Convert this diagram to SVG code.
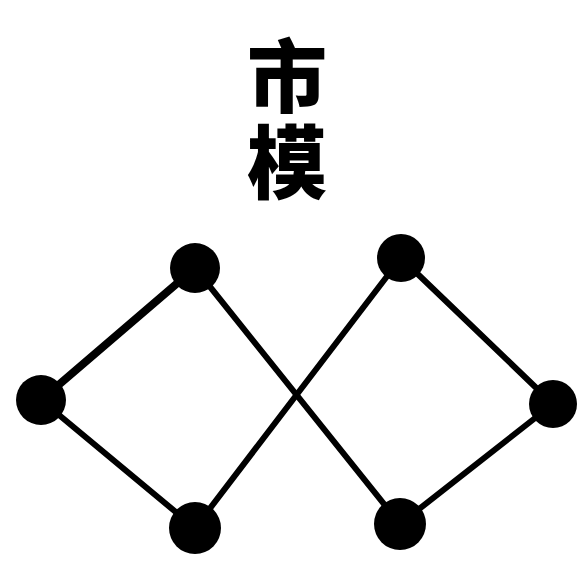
<svg xmlns="http://www.w3.org/2000/svg" width="580" height="577" viewBox="0 0 580 577">
<style>
.edge{stroke:#000;stroke-width:6;stroke-linecap:round;fill:none}
.node{fill:#000}
.t{font-family:"Noto Sans CJK SC","Noto Sans CJK JP",sans-serif;font-weight:900;font-size:80px;fill:#000;writing-mode:vertical-rl;letter-spacing:6px}
</style>
<rect width="580" height="577" fill="#fff"/>
<g id="title">
<text class="t" x="287" y="36">市模</text>
</g>
<g id="connectors">
<line class="edge" x1="41" y1="400" x2="195" y2="268" style="stroke-width:8"/>
<line class="edge" x1="41" y1="400" x2="195" y2="528"/>
<line class="edge" x1="195" y1="268" x2="400" y2="524"/>
<line class="edge" x1="195" y1="528" x2="401" y2="258"/>
<line class="edge" x1="401" y1="258" x2="553" y2="404"/>
<line class="edge" x1="553" y1="404" x2="400" y2="524"/>
</g>
<g id="n1"><circle class="node" cx="195" cy="268" r="25"/></g>
<g id="n2"><circle class="node" cx="41" cy="400" r="25"/></g>
<g id="n3"><circle class="node" cx="195" cy="528" r="26"/></g>
<g id="n4"><circle class="node" cx="401" cy="258" r="24"/></g>
<g id="n5"><circle class="node" cx="553" cy="404" r="24"/></g>
<g id="n6"><circle class="node" cx="400" cy="524" r="26"/></g>
</svg>
